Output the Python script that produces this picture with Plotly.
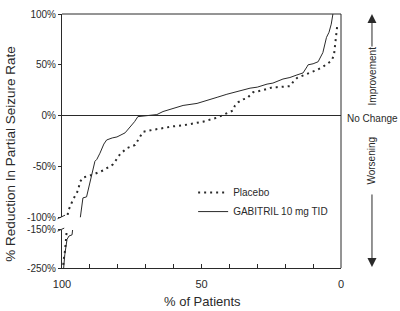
import plotly.graph_objects as go

# ---- data ----
gab_pct = [2.9, 3.5, 4.3, 5.2, 6.5, 7.5, 8.2, 10.0, 11.8, 12.2, 13.6, 15.8, 18.3, 20.8, 24.4, 26.5,
           30.0, 32.6, 37.3, 40.9, 44.4, 47.0, 51.6, 56.6, 60.2, 63.8, 66.0, 69.5, 71.0, 72.8,
           74.0, 75.6, 77.4, 80.3, 82.0, 84.0, 85.0, 86.4, 87.5, 88.2, 89.2, 90.7, 91.2, 92.5,
           93.5, 96.2, 96.4, 97.5, 98.2, 98.6, 99.0, 99.4]
gab_val = [100, 90, 82, 77, 62, 57, 53, 51, 50, 48, 42, 40, 37.5, 36, 32, 31,
           28, 27, 24, 21, 18, 16, 12, 10, 7, 4, 1, 0, 0, -1,
           -6, -11, -17, -21, -22, -24, -28, -37, -43, -45, -57, -77, -80, -81,
           -99, -150, -163, -166, -175, -190, -215, -250]

pla_pct = [1.4, 1.8, 2.5, 3.2, 3.9, 6.5, 8.6, 12.2, 15.8, 17.2, 18.3, 22.9, 24.4, 28.0, 31.5,
           33.7, 35.1, 36.9, 38.0, 38.7, 40.9, 44.4, 49.5, 56.6, 60.2, 62.4, 67.4, 71.0, 73.8,
           76.7, 79.2, 81.7, 85.3, 88.9, 92.5, 93.5, 94.3, 96.1, 97.8, 98.3, 98.4, 98.6, 98.9,
           99.3, 99.6]
pla_val = [87, 77, 60, 55, 53, 48, 45, 41, 37, 33, 29, 28, 28, 25, 23,
           17, 16, 13, 10, 5, 2, -2, -6, -9.6, -10.6, -11.5, -14, -16, -29,
           -32, -38, -48, -54, -58, -61, -65, -74, -83, -94, -105, -160, -186, -204,
           -224, -245]

upper_ticks = [100, 50, 0, -50, -100]
lower_ticks = [-150, -250]
x_ticks = [100, 50, 0]

INK = "#2a2a2a"
FONT = "Liberation Sans, Arial, sans-serif"

fig = go.Figure()
for yax, show in (("y", True), ("y2", False)):
    fig.add_trace(go.Scatter(x=pla_pct, y=pla_val, mode="lines", name="Placebo",
                             legendgroup="p", showlegend=show, yaxis=yax,
                             line=dict(color=INK, width=2, dash="2px,4px")))
    fig.add_trace(go.Scatter(x=gab_pct, y=gab_val, mode="lines", name="GABITRIL 10 mg TID",
                             legendgroup="g", showlegend=show, yaxis=yax,
                             line=dict(color=INK, width=1)))

axis_common = dict(showline=True, linecolor=INK, linewidth=1, showgrid=False,
                   ticks="outside", ticklen=3, tickcolor=INK,
                   tickfont=dict(size=10, color=INK, family=FONT))

fig.update_layout(
    width=400, height=311,
    margin=dict(l=62, r=59, t=8, b=43),
    paper_bgcolor="white", plot_bgcolor="white",
    font=dict(family=FONT, color=INK),
    xaxis=dict(range=[100, 0], anchor="y2", showline=True, linecolor=INK, linewidth=1,
               showgrid=False, zeroline=False, tickvals=x_ticks,
               ticks="inside", ticklen=4, tickcolor=INK, ticklabelstandoff=6,
               minor=dict(dtick=10, ticks="inside", ticklen=4, tickcolor=INK),
               tickfont=dict(size=11, color=INK, family=FONT)),
    yaxis=dict(domain=[0.2, 1.0], range=[-100, 100], tickvals=upper_ticks,
               ticktext=[f"{v}%" for v in upper_ticks],
               zeroline=True, zerolinecolor=INK, zerolinewidth=1, **axis_common),
    yaxis2=dict(domain=[0.0, 0.15], range=[-250, -150], tickvals=lower_ticks,
                ticktext=[f"{v}%" for v in lower_ticks], zeroline=False, **axis_common),
    legend=dict(x=0.47, y=0.354, xanchor="left", yanchor="top", bgcolor="rgba(0,0,0,0)",
                tracegroupgap=0, font=dict(size=10, color=INK, family=FONT)),
    showlegend=True,
)

# frame (top and right) and axis-break marks
fig.add_shape(type="line", xref="paper", yref="paper", x0=0, x1=1, y0=1, y1=1,
              line=dict(color=INK, width=1))
fig.add_shape(type="line", xref="paper", yref="paper", x0=1, x1=1, y0=0, y1=1,
              line=dict(color=INK, width=1))
fig.add_shape(type="line", xref="paper", yref="paper", x0=-0.016, x1=0.011, y0=0.194, y1=0.208,
              line=dict(color=INK, width=1))
fig.add_shape(type="line", xref="paper", yref="paper", x0=-0.016, x1=0.008, y0=0.145, y1=0.157,
              line=dict(color=INK, width=1))

ann_font = dict(size=10, color=INK, family=FONT)
C = dict(xref="paper", yref="paper", xanchor="center", yanchor="middle", showarrow=False)
fig.add_annotation(text="% Reduction In Partial Seizure Rate", textangle=-90,
                   x=-0.183, y=0.45, font=dict(size=13.5, color=INK, family=FONT), **C)
fig.add_annotation(text="% of Patients", x=0.505, y=-0.131,
                   font=dict(size=13, color=INK, family=FONT), **C)
fig.add_annotation(text="Improvement", textangle=-90, x=1.111, y=0.758, font=ann_font, **C)
fig.add_annotation(text="No Change", x=1.113, y=0.588, font=ann_font, **C)
fig.add_annotation(text="Worsening", textangle=-90, x=1.111, y=0.423, font=ann_font, **C)
fig.add_annotation(text="", xref="paper", yref="paper", x=1.111, y=1.0,
                   ax=0, ay=34, showarrow=True, arrowhead=2, arrowsize=1.8,
                   arrowwidth=1, arrowcolor=INK)
fig.add_annotation(text="", xref="paper", yref="paper", x=1.111, y=0.004,
                   ax=0, ay=-74, showarrow=True, arrowhead=2, arrowsize=1.8,
                   arrowwidth=1, arrowcolor=INK)

fig.write_html("out.html")
